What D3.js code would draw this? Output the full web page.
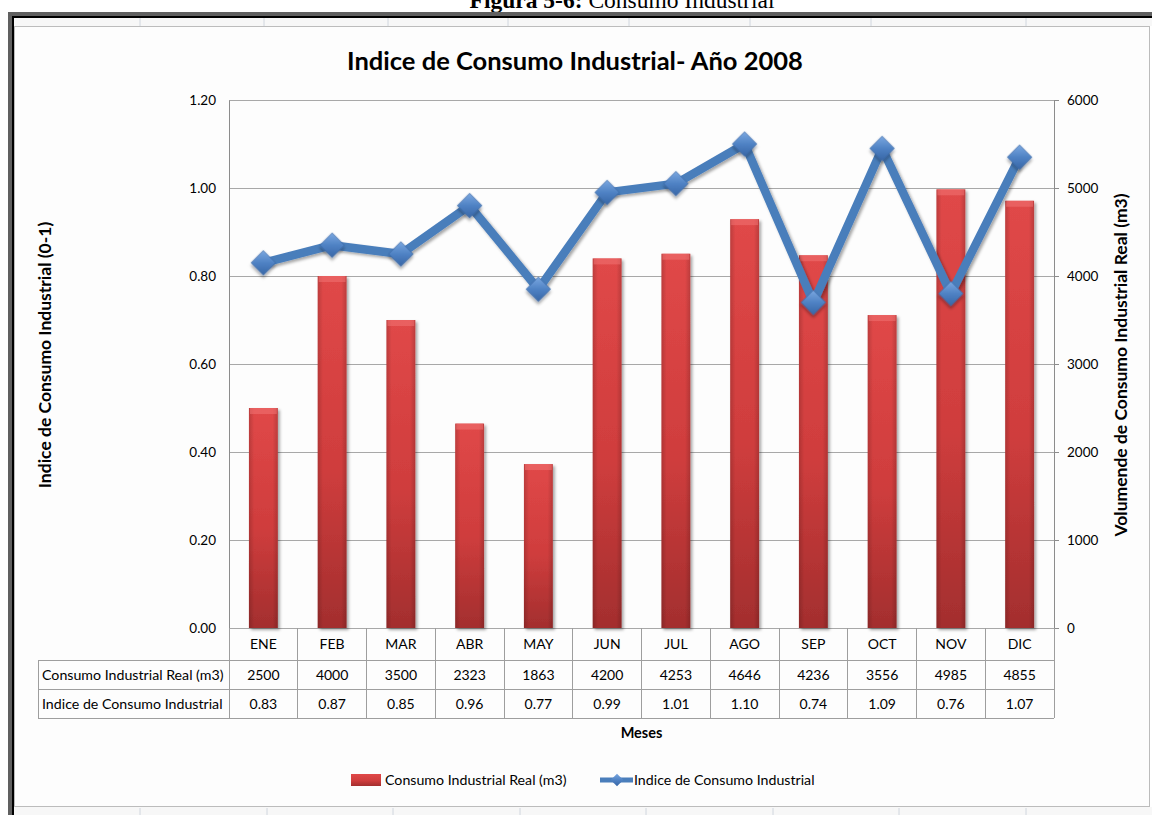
<!DOCTYPE html>
<html>
<head>
<meta charset="utf-8">
<script src="https://cdn.jsdelivr.net/npm/d3@7"></script>
<style>
  body { margin: 0; background: #fff; }
  text { font-family: Lato, "Open Sans", sans-serif; fill: #000; }
</style>
</head>
<body>
<div id="chart"></div>
<script>
var meses = ["ENE", "FEB", "MAR", "ABR", "MAY", "JUN", "JUL", "AGO", "SEP", "OCT", "NOV", "DIC"];
var consumoReal = [2500, 4000, 3500, 2323, 1863, 4200, 4253, 4646, 4236, 3556, 4985, 4855];
var indiceConsumo = [0.83, 0.87, 0.85, 0.96, 0.77, 0.99, 1.01, 1.10, 0.74, 1.09, 0.76, 1.07];
var indiceTicks = [0, 0.2, 0.4, 0.6, 0.8, 1.0, 1.2];
var volumenTicks = [0, 1000, 2000, 3000, 4000, 5000, 6000];
var rowLabels = ["Consumo Industrial Real (m3)", "Indice de Consumo Industrial"];

var width = 1152;
var height = 815;
var plot = { left: 229, right: 1054, top: 100, bottom: 628 };

var svg = d3
  .select("#chart")
  .append("svg")
  .attr("width", width)
  .attr("height", height);

var defs = svg.append("defs");

var barGrad = defs
  .append("linearGradient")
  .attr("id", "barGrad")
  .attr("x1", 0).attr("y1", 0).attr("x2", 0).attr("y2", 1);
barGrad.append("stop").attr("offset", "0%").attr("stop-color", "#e04848");
barGrad.append("stop").attr("offset", "55%").attr("stop-color", "#cf3d3d");
barGrad.append("stop").attr("offset", "100%").attr("stop-color", "#a32e2e");

var barSide = defs
  .append("linearGradient")
  .attr("id", "barSide")
  .attr("x1", 0).attr("y1", 0).attr("x2", 1).attr("y2", 0);
barSide.append("stop").attr("offset", "0%").attr("stop-color", "#000").attr("stop-opacity", 0.16);
barSide.append("stop").attr("offset", "18%").attr("stop-color", "#000").attr("stop-opacity", 0);
barSide.append("stop").attr("offset", "82%").attr("stop-color", "#000").attr("stop-opacity", 0);
barSide.append("stop").attr("offset", "100%").attr("stop-color", "#000").attr("stop-opacity", 0.16);

var diamondGrad = defs
  .append("linearGradient")
  .attr("id", "diamondGrad")
  .attr("x1", 0).attr("y1", 0).attr("x2", 1).attr("y2", 1);
diamondGrad.append("stop").attr("offset", "0%").attr("stop-color", "#7aa7e0");
diamondGrad.append("stop").attr("offset", "50%").attr("stop-color", "#4f82c4");
diamondGrad.append("stop").attr("offset", "100%").attr("stop-color", "#3766a6");

var shadow = defs.append("filter").attr("id", "shadow")
  .attr("x", "-30%").attr("y", "-30%").attr("width", "160%").attr("height", "160%");
shadow.append("feDropShadow")
  .attr("dx", 2).attr("dy", 2).attr("stdDeviation", 1.6)
  .attr("flood-color", "#000").attr("flood-opacity", 0.35);

// page frame around the chart (sheet look)
svg.append("text")
  .attr("x", 622)
  .attr("y", 8)
  .attr("text-anchor", "middle")
  .style("font-family", "'Liberation Serif', serif")
  .style("font-size", "23.5px")
  .html("<tspan font-weight='bold'>Figura 5-6:</tspan> Consumo Industrial");

svg.append("rect").attr("x", 8).attr("y", 12).attr("width", width - 8).attr("height", 5).attr("fill", "#606060");
svg.append("rect").attr("x", 8).attr("y", 12).attr("width", 4).attr("height", height - 12).attr("fill", "#606060");
svg.append("rect").attr("x", 12).attr("y", 16).attr("width", width - 12).attr("height", 2).attr("fill", "#000");
svg.append("rect").attr("x", 12).attr("y", 16).attr("width", 2).attr("height", height - 16).attr("fill", "#000");
svg.append("rect").attr("x", 14).attr("y", 18).attr("width", width - 14).attr("height", 8).attr("fill", "#f7f7f7");
svg.append("rect").attr("x", 14).attr("y", 807).attr("width", width - 14).attr("height", 8).attr("fill", "#f7f7f7");

[140, 264, 388, 508, 629, 750, 871, 1026].forEach(function (cx) {
  svg.append("line").attr("x1", cx).attr("x2", cx).attr("y1", 18).attr("y2", 26)
    .attr("stroke", "#d0d6de");
});
[140, 267, 393, 520, 646, 773, 899, 1026].forEach(function (cx) {
  svg.append("line").attr("x1", cx).attr("x2", cx).attr("y1", 808).attr("y2", 815)
    .attr("stroke", "#d0d6de");
});

svg.append("rect")
  .attr("x", 14.5).attr("y", 26.5)
  .attr("width", 1135).attr("height", 780)
  .attr("fill", "#fdfdfd")
  .attr("stroke", "#bcbcbc");

// scales
var xScale = d3.scaleBand().domain(meses).range([plot.left, plot.right]).padding(0);
var yIndice = d3.scaleLinear().domain([0, 1.2]).range([plot.bottom, plot.top]);
var yVolumen = d3.scaleLinear().domain([0, 6000]).range([plot.bottom, plot.top]);
var bw = xScale.bandwidth();
var barW = bw * 0.42;

// gridlines + right axis
var gRight = svg.append("g")
  .attr("transform", "translate(" + plot.right + ",0)")
  .call(d3.axisRight(yVolumen).tickValues(volumenTicks).tickSize(5).tickPadding(8)
    .tickFormat(d3.format("d")));
gRight.select(".domain").attr("stroke", "#8c8c8c");
gRight.selectAll(".tick line").attr("stroke", "#8c8c8c");
gRight.selectAll(".tick text").style("font-size", "13.5px").style("font-family", "Lato, sans-serif");

svg.append("g")
  .selectAll("line")
  .data(indiceTicks)
  .join("line")
  .attr("x1", plot.left)
  .attr("x2", plot.right)
  .attr("y1", (d) => Math.round(yIndice(d)) + 0.5)
  .attr("y2", (d) => Math.round(yIndice(d)) + 0.5)
  .attr("stroke", "#a8a8a8");

var gLeft = svg.append("g")
  .attr("transform", "translate(" + plot.left + ",0)")
  .call(d3.axisLeft(yIndice).tickValues(indiceTicks).tickSize(0).tickPadding(13)
    .tickFormat(d3.format(".2f")));
gLeft.select(".domain").attr("stroke", "#8c8c8c");
gLeft.selectAll(".tick text").style("font-size", "13.5px").style("font-family", "Lato, sans-serif");

// bars
var bars = svg.append("g");
bars.selectAll("rect.bar")
  .data(consumoReal)
  .join("rect")
  .attr("class", "bar")
  .attr("x", (d, i) => xScale(meses[i]) + bw / 2 - barW / 2)
  .attr("y", (d) => yVolumen(d))
  .attr("width", barW)
  .attr("height", (d) => plot.bottom - yVolumen(d))
  .attr("fill", "url(#barGrad)")
  .attr("filter", "url(#shadow)");
bars.selectAll("rect.side")
  .data(consumoReal)
  .join("rect")
  .attr("class", "side")
  .attr("x", (d, i) => xScale(meses[i]) + bw / 2 - barW / 2)
  .attr("y", (d) => yVolumen(d))
  .attr("width", barW)
  .attr("height", (d) => plot.bottom - yVolumen(d))
  .attr("fill", "url(#barSide)");
bars.selectAll("rect.cap")
  .data(consumoReal)
  .join("rect")
  .attr("class", "cap")
  .attr("x", (d, i) => xScale(meses[i]) + bw / 2 - barW / 2 + 1)
  .attr("y", (d) => yVolumen(d))
  .attr("width", barW - 2)
  .attr("height", 6)
  .attr("fill", "#f07272")
  .attr("opacity", 0.55);

// line + diamonds
var line = d3.line()
  .x((d, i) => xScale(meses[i]) + bw / 2)
  .y((d) => yIndice(d));

svg.append("path")
  .datum(indiceConsumo)
  .attr("d", line)
  .attr("fill", "none")
  .attr("stroke", "#4a7ebb")
  .attr("stroke-width", 8.5)
  .attr("stroke-linejoin", "round")
  .attr("filter", "url(#shadow)");

svg.append("g")
  .selectAll("path")
  .data(indiceConsumo)
  .join("path")
  .attr("d", d3.symbol(d3.symbolSquare, 300))
  .attr("transform", (d, i) =>
    "translate(" + (xScale(meses[i]) + bw / 2) + "," + yIndice(d) + ") rotate(45)")
  .attr("fill", "url(#diamondGrad)")
  .attr("stroke", "#3a6aa8")
  .attr("stroke-width", 0.6)
  .attr("filter", "url(#shadow)");

// data table
var tableTop = plot.bottom;
var rowY = [628, 660, 689, 718];
var tableLeft = 38;
var table = svg.append("g").attr("stroke", "#9e9e9e").attr("shape-rendering", "crispEdges");

table.selectAll("line.v")
  .data(meses.concat(["end"]))
  .join("line")
  .attr("class", "v")
  .attr("x1", (d, i) => plot.left + i * bw)
  .attr("x2", (d, i) => plot.left + i * bw)
  .attr("y1", tableTop)
  .attr("y2", rowY[3]);
table.append("line").attr("x1", tableLeft).attr("x2", tableLeft).attr("y1", rowY[1]).attr("y2", rowY[3]);
rowY.slice(1).forEach(function (yy) {
  table.append("line").attr("x1", tableLeft).attr("x2", plot.right).attr("y1", yy).attr("y2", yy);
});

svg.append("g")
  .selectAll("text")
  .data(meses)
  .join("text")
  .attr("x", (d) => xScale(d) + bw / 2)
  .attr("y", 649)
  .attr("text-anchor", "middle")
  .style("font-size", "14px")
  .text((d) => d);

svg.append("g")
  .selectAll("text")
  .data(consumoReal)
  .join("text")
  .attr("x", (d, i) => xScale(meses[i]) + bw / 2)
  .attr("y", 680)
  .attr("text-anchor", "middle")
  .style("font-size", "14px")
  .text((d) => d);

svg.append("g")
  .selectAll("text")
  .data(indiceConsumo)
  .join("text")
  .attr("x", (d, i) => xScale(meses[i]) + bw / 2)
  .attr("y", 709)
  .attr("text-anchor", "middle")
  .style("font-size", "14px")
  .text((d) => d3.format(".2f")(d));

svg.append("g")
  .selectAll("text")
  .data(rowLabels)
  .join("text")
  .attr("x", tableLeft + 4)
  .attr("y", (d, i) => [680, 709][i])
  .style("font-size", "14.2px")
  .text((d) => d);

// titles
svg.append("text")
  .attr("x", 575)
  .attr("y", 70)
  .attr("text-anchor", "middle")
  .style("font-size", "25.5px")
  .style("font-weight", "bold")
  .text("Indice de Consumo Industrial- Año 2008");

svg.append("text")
  .attr("transform", "translate(51,355) rotate(-90)")
  .attr("text-anchor", "middle")
  .style("font-size", "17.5px")
  .style("font-weight", "bold")
  .text("Indice de Consumo Industrial (0-1)");

svg.append("text")
  .attr("transform", "translate(1127,365) rotate(-90)")
  .attr("text-anchor", "middle")
  .style("font-size", "17.5px")
  .style("font-weight", "bold")
  .text("Volumende de Consumo Industrial Real (m3)");

svg.append("text")
  .attr("x", (plot.left + plot.right) / 2)
  .attr("y", 738)
  .attr("text-anchor", "middle")
  .style("font-size", "14.5px")
  .style("font-weight", "bold")
  .text("Meses");

// legend
var legend = svg.append("g");
legend.append("rect")
  .attr("x", 351).attr("y", 774).attr("width", 30).attr("height", 12)
  .attr("fill", "url(#barGrad)");
legend.append("text")
  .attr("x", 385).attr("y", 785)
  .style("font-size", "14.2px")
  .text("Consumo Industrial Real (m3)");
legend.append("line")
  .attr("x1", 600).attr("x2", 633).attr("y1", 780).attr("y2", 780)
  .attr("stroke", "#4a7ebb").attr("stroke-width", 5);
legend.append("path")
  .attr("d", d3.symbol(d3.symbolSquare, 80))
  .attr("transform", "translate(617,780) rotate(45)")
  .attr("fill", "url(#diamondGrad)");
legend.append("text")
  .attr("x", 634).attr("y", 785)
  .style("font-size", "14.2px")
  .text("Indice de Consumo Industrial");
</script>
</body>
</html>
